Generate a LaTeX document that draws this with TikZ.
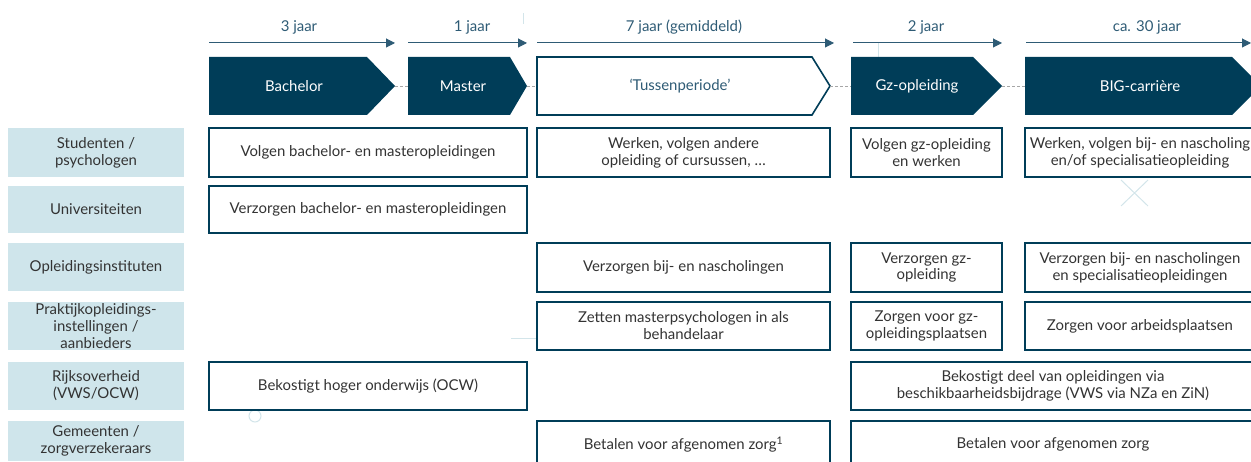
\documentclass[tikz,border=0pt]{standalone}
\usepackage{fontspec}
\setmainfont{Lato}
\usetikzlibrary{calc,arrows.meta}

\definecolor{navy}{HTML}{003D58}
\definecolor{paleblue}{HTML}{CFE5EB}
\definecolor{ink}{HTML}{333333}
\definecolor{spanblue}{HTML}{2E5B75}
\definecolor{ghostblue}{HTML}{D3E5EA}
\newcommand{\boxfont}{\fontsize{15}{17}\selectfont}

\begin{document}
\begin{tikzpicture}[x=1bp,y=-1bp,
    actor/.style={fill=paleblue,text=ink,align=center,inner sep=0pt,font=\boxfont},
    task/.style={draw=navy,line width=1.6bp,fill=white,text=ink,align=center,inner sep=0pt,font=\boxfont},
    period/.style={text=spanblue,font=\boxfont},
    span/.style={spanblue,line width=1bp,-{Triangle[length=9bp,width=9bp]}},
    link/.style={gray!70,dash pattern=on 3bp off 2bp,line width=0.8bp},
    ghost/.style={draw=ghostblue,line width=1bp}]
        % canvas
        \useasboundingbox (0,0) rectangle (1251,462);
        \clip (0,0) rectangle (1251,462);

        % faint marks
        \draw[ghost] (1121,180) -- (1148,206) (1148,180) -- (1121,206);
        \draw[ghost] (511,339) -- (537,339);
        \draw[ghost] (523,13) -- (523,24);
        \draw[ghost] (878,43) -- (878,57);
        \draw[ghost] (255,416) circle (6);

        % durations and arrows
        \foreach \nm/\xa/\xb/\tx/\txt in {p3/209/395/299/3 jaar, p1/408/527/472/1 jaar,
            p7/537/834/684/7 jaar (gemiddeld), p2/853/1002/926/2 jaar, p30/1026/1251/1147/ca. 30 jaar}{
            \node[period] (\nm) at (\tx,27) {\txt};
            \draw[span] (\xa,43) -- (\xb,43);
        }

        % phases
        \foreach \nm/\xa/\xb/\xc/\tx/\txt in {bachelor/209/367/395/294/Bachelor, master/408/510/527/463/Master,
            gz/851/973/1002/917/Gz-opleiding, big/1025/1232/1261/1140/BIG-carrière}{
            \fill[navy] (\xa,57) -- (\xb,57) -- (\xc,86) -- (\xb,115) -- (\xa,115) -- cycle;
            \coordinate (\nm-in) at (\xa,86);
            \coordinate (\nm-out) at (\xc,86);
            \node[text=white,font=\boxfont] (\nm) at (\tx,86) {\txt};
        }
        \draw[navy,line width=1.6bp,fill=white] (537,57) -- (812,57) -- (830,86) -- (812,115) -- (537,115) -- cycle;
        \coordinate (tussen-in) at (537,86);
        \coordinate (tussen-out) at (830,86);
        \node[text=spanblue,font=\boxfont] (tussen) at (680,86) {‘Tussenperiode’};
        \draw[link] (bachelor-out) -- (master-in);
        \draw[link] (master-out) -- (tussen-in);
        \draw[link] (tussen-out) -- (gz-in);
        \draw[link] (gz-out) -- (big-in);

        % row labels
        \foreach \nm/\ya/\yb/\txt in {studenten/128/177/{Studenten /\\psychologen},
            universiteiten/186/233/Universiteiten, instituten/243/291/Opleidingsinstituten,
            praktijk/302/350/{Praktijkopleidings-\\instellingen /\\aanbieders},
            rijk/362/410/{Rijksoverheid\\(VWS/OCW)}, gemeenten/421/461/{Gemeenten /\\zorgverzekeraars}}
            \node[actor,minimum width=176bp,minimum height={(\yb-\ya)*1bp}] (\nm) at (96,{(\ya+\yb)/2}) {\txt};

        % tasks
        \foreach \nm/\xa/\ya/\xb/\yb/\txt in {
            volgenBM/209/128/527/177/Volgen bachelor- en masteropleidingen,
            werkenTP/537/128/830/177/{Werken, volgen andere\\opleiding of cursussen, \dots},
            volgenGz/851/128/1002/177/{Volgen gz-opleiding\\en werken},
            werkenBIG/1025/128/1255/177/{Werken, volgen bij- en nascholing\\en/of specialisatieopleiding},
            verzorgenBM/209/186/527/233/Verzorgen bachelor- en masteropleidingen,
            verzorgenTP/537/243/830/292/Verzorgen bij- en nascholingen,
            verzorgenGz/851/243/1002/292/{Verzorgen gz-\\opleiding},
            verzorgenBIG/1025/243/1255/292/{Verzorgen bij- en nascholingen\\en specialisatieopleidingen},
            zettenTP/537/302/830/350/{Zetten masterpsychologen in als\\behandelaar},
            zorgenGz/851/302/1002/350/{Zorgen voor gz-\\opleidingsplaatsen},
            zorgenBIG/1025/302/1255/350/Zorgen voor arbeidsplaatsen,
            bekostigtOCW/209/362/527/410/Bekostigt hoger onderwijs (OCW),
            bekostigtVWS/851/362/1255/410/{Bekostigt deel van opleidingen via\\beschikbaarheidsbijdrage (VWS via NZa en ZiN)},
            betalenTP/537/421/830/468/Betalen voor afgenomen zorg\textsuperscript{1},
            betalenZorg/851/421/1255/468/Betalen voor afgenomen zorg}
            \node[task,minimum width={(\xb-\xa)*1bp},minimum height={(\yb-\ya)*1bp}] (\nm) at ({(\xa+\xb)/2},{(\ya+\yb)/2}) {\txt};
    \end{tikzpicture}
\end{document}
